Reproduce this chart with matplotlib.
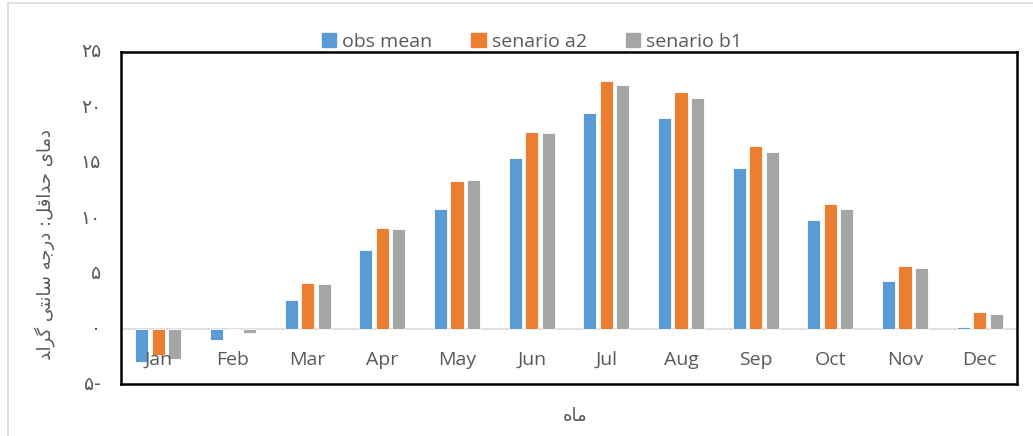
import matplotlib
matplotlib.use("Agg")
import matplotlib.pyplot as plt
from matplotlib.patches import Rectangle
from matplotlib.lines import Line2D
import numpy as np

months = ["Jan", "Feb", "Mar", "Apr", "May", "Jun", "Jul", "Aug", "Sep", "Oct", "Nov", "Dec"]
obs_mean = [-3.0, -1.0, 2.6, 7.1, 10.8, 15.4, 19.5, 19.0, 14.5, 9.8, 4.3, 0.15]
senario_a2 = [-2.4, 0.0, 4.1, 9.1, 13.3, 17.8, 22.4, 21.4, 16.5, 11.3, 5.7, 1.55]
senario_b1 = [-2.7, -0.35, 4.0, 9.05, 13.4, 17.7, 22.0, 20.8, 16.0, 10.8, 5.5, 1.35]
series_names = ["obs mean", "senario a2", "senario b1"]
y_ticks = [-5, 0, 5, 10, 15, 20, 25]
y_tick_labels = ["\u06f5-", "\u06f0", "\u06f5", "\u06f1\u06f0", "\u06f1\u06f5", "\u06f2\u06f0", "\u06f2\u06f5"]

# Pre-shaped (presentation forms, visual order) Persian labels
# logical: "دمای حداقل: درجه سانتی گراد"
ylabel_logical = [
    "\uFEA9", "\uFEE3", "\uFE8E", "\uFEEF", " ",
    "\uFEA3", "\uFEAA", "\uFE8D", "\uFED7", "\uFEDE", ":", " ",
    "\uFEA9", "\uFEAD", "\uFE9F", "\uFEEA", " ",
    "\uFEB3", "\uFE8E", "\uFEE7", "\uFE98", "\uFEF0", " ",
    "\uFB94", "\uFEAE", "\uFE8D", "\uFEAA",
]
ylabel_text = "".join(reversed(ylabel_logical))
xlabel_logical = ["\uFEE3", "\uFE8E", "\uFEE9"]  # "ماه"
xlabel_text = "".join(reversed(xlabel_logical))

colors = ["#5B9BD5", "#ED7D31", "#A5A5A5"]
text_color = "#595959"

W, H = 1033, 436
fig = plt.figure(figsize=(W / 100, H / 100), dpi=100)
ax = fig.add_axes([121 / W, 1 - 384 / H, (1017 - 121) / W, (384 - 52) / H])

x = np.arange(len(months))
bw = 0.175
step = 0.222
for i, (vals, c, name) in enumerate(zip([obs_mean, senario_a2, senario_b1], colors, series_names)):
    ax.bar(x + (i - 1) * step, vals, width=bw, color=c, edgecolor="white", linewidth=0.6, label=name, zorder=3)

ax.set_xlim(-0.5, 11.5)
ax.set_ylim(-5, 25)
ax.axhline(0, color="#D9D9D9", linewidth=1.2, zorder=2)

for s in ax.spines.values():
    s.set_color("black")
    s.set_linewidth(1.8)

ax.set_xticks([])
ax.set_yticks([])

for xi, m in zip(x, months):
    ax.text(xi, -2.85, m, ha="center", va="center", fontsize=14, color=text_color,
            family=["Open Sans", "DejaVu Sans"], zorder=4)

for yv, lab in zip(y_ticks, y_tick_labels):
    fig.text(101 / W, 1 - (328.7 - yv * 11.07) / H, lab, ha="right", va="center",
             fontsize=13.5, color=text_color, family=["DejaVu Sans"])

fig.text(45 / W, 1 - 245 / H, ylabel_text, rotation=90, ha="center", va="center",
         fontsize=13, color=text_color, family=["DejaVu Sans"])
fig.text(575 / W, 1 - 416 / H, xlabel_text, ha="center", va="center",
         fontsize=13, color=text_color, family=["DejaVu Sans"])

handles = [Rectangle((0, 0), 1, 1, color=c) for c in colors]
leg = fig.legend(handles, series_names, loc="center", bbox_to_anchor=(532 / W, 1 - 42 / H),
                 ncol=3, frameon=False, handlelength=0.75, handleheight=0.75,
                 handletextpad=0.3, columnspacing=2.0,
                 prop={"family": ["Open Sans", "DejaVu Sans"], "size": 14})
for t in leg.get_texts():
    t.set_color(text_color)

# outer chart border (light gray, left and top visible)
fig.add_artist(Line2D([7.5 / W, 7.5 / W], [0, 1 - 3 / H], color="#D9D9D9", linewidth=1.2))
fig.add_artist(Line2D([7.5 / W, 1], [1 - 3 / H, 1 - 3 / H], color="#D9D9D9", linewidth=1.2))

fig.savefig("out.png", dpi=100)
